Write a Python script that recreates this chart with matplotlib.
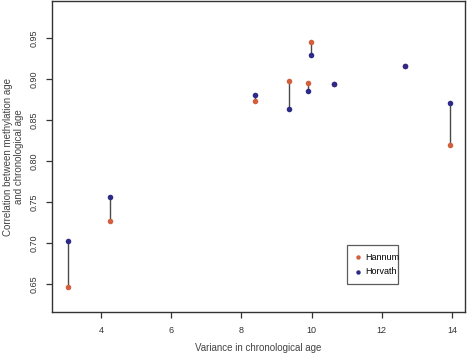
import matplotlib
matplotlib.use("Agg")
import matplotlib.pyplot as plt

plt.rcParams['font.family'] = ['Liberation Sans', 'DejaVu Sans']

# variance in chronological age for each dataset
variance = [3.05, 4.25, 8.38, 9.37, 9.90, 9.98, 10.64, 12.65, 13.94]
hannum = [0.646, 0.727, 0.873, 0.897, 0.895, 0.945, 0.894, 0.9155, 0.820]
horvath = [0.703, 0.756, 0.881, 0.864, 0.885, 0.929, 0.894, 0.9155, 0.871]

col_hannum = "#d2603f"
col_horvath = "#2d2a88"

fig = plt.figure(figsize=(4.69, 3.56), dpi=100)
ax = fig.add_axes([0.111, 0.1236, 0.8805, 0.8734])

# segments linking the two clocks
for x, a, b in zip(variance, hannum, horvath):
    ax.plot([x, x], [a, b], color="#4a4a4a", linewidth=1.0, zorder=1)

ax.scatter(variance, hannum, s=16, color=col_hannum, zorder=3, label="Hannum", linewidths=0)
ax.scatter(variance, horvath, s=16, color=col_horvath, zorder=4, label="Horvath", linewidths=0)

ax.set_xlim(2.61, 14.37)
ax.set_ylim(0.616, 0.995)
ax.set_xticks([4, 6, 8, 10, 12, 14])
ax.set_yticks([0.65, 0.70, 0.75, 0.80, 0.85, 0.90, 0.95])
ax.set_yticklabels(["0.65", "0.70", "0.75", "0.80", "0.85", "0.90", "0.95"], rotation=90, va="center")
ax.tick_params(labelsize=6.5, length=4, width=0.9, colors="#333333", pad=6)

for s in ax.spines.values():
    s.set_linewidth(1.0)
    s.set_color("#333333")

ax.set_xlabel("Variance in chronological age", fontsize=7, color="#444444", labelpad=6)
ax.set_ylabel("Correlation between methylation age\nand chronological age", fontsize=7,
              color="#444444", labelpad=4, linespacing=1.1)

leg = ax.legend(loc="lower left", bbox_to_anchor=(0.7136, 0.089, 0.125, 0.134), mode="expand",
                fontsize=6.5, frameon=True, fancybox=False, handlelength=0.6,
                handletextpad=0.6, borderpad=0.9, labelspacing=0.6, markerscale=0.8,
                borderaxespad=0)
leg.get_frame().set_edgecolor("#333333")
leg.get_frame().set_linewidth(0.9)

fig.savefig("out.png", dpi=100)
